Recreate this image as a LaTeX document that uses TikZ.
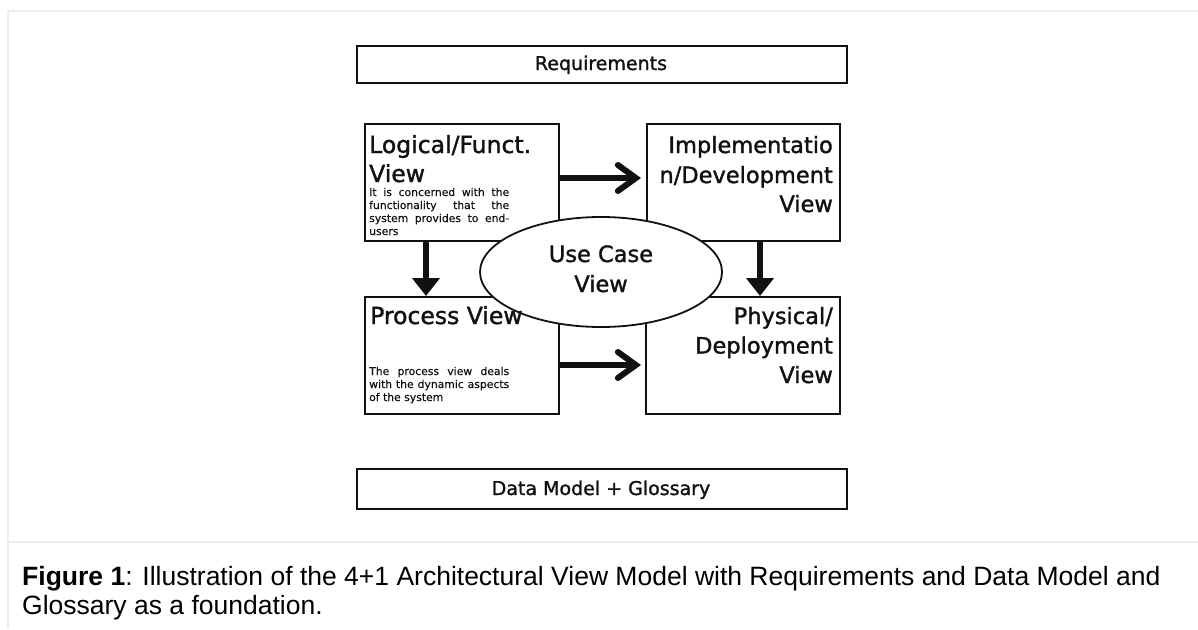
\documentclass[tikz,border=0pt]{standalone}
\usepackage{fontspec}
\setmainfont{Liberation Sans}
\newfontfamily\dg[FakeBold=1.4]{DejaVu Sans}
\newfontfamily\dgs[FakeBold=0.3]{DejaVu Sans}
\usetikzlibrary{arrows.meta,shapes.geometric}
\definecolor{framecol}{HTML}{EDEDED}
\definecolor{ink}{HTML}{111111}
\tikzset{
  box/.style={draw=ink, line width=2pt, fill=white, inner sep=0pt, anchor=north west},
  ltitle/.style={inner sep=0pt, anchor=base west, font=\dg\fontsize{23.5}{29}\selectfont, text=ink},
  rtitle/.style={inner sep=0pt, anchor=base east, font=\dg\fontsize{22.5}{29}\selectfont, text=ink},
  ctitle/.style={inner sep=0pt, anchor=base, font=\dg\fontsize{22.5}{29}\selectfont, text=ink},
  bar/.style={inner sep=0pt, anchor=base, font=\dg\fontsize{19}{22}\selectfont, text=ink},
  small/.style={inner sep=0pt, anchor=base west, font=\dgs\fontsize{10.8}{13}\selectfont, text=ink},
  hz/.style={line width=6pt, draw=ink, -{Straight Barb[length=18pt,width=26pt,line width=6pt,line cap=round]}},
  vt/.style={line width=6pt, draw=ink, -{Triangle[length=18pt,width=27pt]}},
}
\begin{document}
\begin{tikzpicture}[x=1pt,y=-1pt]
\useasboundingbox (0,0) rectangle (1198,629);
% frame
\draw[framecol, line width=2pt] (1198,11) -- (8,11) -- (8,629);
\draw[framecol, line width=2pt] (8,542) -- (1198,542);
% bars
\node[box, minimum width=490pt, minimum height=37pt] (req) at (356,45) {};
\node[bar] (reqt) at (601,70) {Requirements};
\node[box, minimum width=490pt, minimum height=40pt] (data) at (356,468) {};
\node[bar] (datat) at (601,495) {Data Model + Glossary};
% view boxes
\node[box, minimum width=194pt, minimum height=117pt] (log) at (364,123) {};
\node[box, minimum width=193pt, minimum height=117pt] (imp) at (646,123) {};
\node[box, minimum width=194pt, minimum height=117pt] (pro) at (364,296) {};
\node[box, minimum width=194pt, minimum height=117pt] (phy) at (645,296) {};
% arrows
\coordinate (a1s) at (log.east |- 0,178);
\coordinate (a1e) at (641,178);
\coordinate (a2s) at (pro.east |- 0,365);
\coordinate (a2e) at (641,365);
\coordinate (a3s) at (426,240);
\coordinate (a4s) at (760,240);
\draw[hz] (a1s) -- (a1e);
\draw[hz] (a2s) -- (a2e);
\draw[vt] (a3s) -- (a3s |- pro.north);
\draw[vt] (a4s) -- (a4s |- phy.north);
% ellipse
\node[draw=ink, line width=1.8pt, fill=white, ellipse, minimum width=242pt, minimum height=110pt, inner sep=0pt] (uc) at (601,272) {};
\node[ctitle] (uct1) at (601,262) {Use Case};
\node[ctitle] (uct2) at (601,292) {View};
% logical
\node[ltitle] (logt1) at (369,153) {Logical/Funct.};
\node[ltitle] (logt2) at (369,182) {View};
\node[small] (logs1) at (369,196) {\makebox[140pt][s]{It is concerned with the}};
\node[small] (logs2) at (369,209) {\makebox[140pt][s]{functionality that the}};
\node[small] (logs3) at (369,222) {\makebox[140pt][s]{system provides to end-}};
\node[small] (logs4) at (369,235) {users};
% implementation
\node[rtitle] (impt1) at (833,153) {Implementatio};
\node[rtitle] (impt2) at (833,183) {n/Development};
\node[rtitle] (impt3) at (833,212) {View};
% process
\node[ltitle] (prot) at (370,324) {Process View};
\node[small] (pros1) at (369,375) {\makebox[140pt][s]{The process view deals}};
\node[small] (pros2) at (369,388) {\makebox[140pt][s]{with the dynamic aspects}};
\node[small] (pros3) at (369,401) {of the system};
% physical
\node[rtitle] (phyt1) at (833,324) {Physical/};
\node[rtitle] (phyt2) at (833,353.5) {Deployment};
\node[rtitle] (phyt3) at (833,383) {View};
% caption
\node[inner sep=0pt, anchor=base west, font=\fontsize{26.5}{29}\selectfont] (cap1) at (22,585) {\textbf{Figure 1}: Illustration of the 4+1 Architectural View Model with Requirements and Data Model and};
\node[inner sep=0pt, anchor=base west, font=\fontsize{26.5}{29}\selectfont] (cap2) at (22,614) {Glossary as a foundation.};
\end{tikzpicture}
\end{document}
